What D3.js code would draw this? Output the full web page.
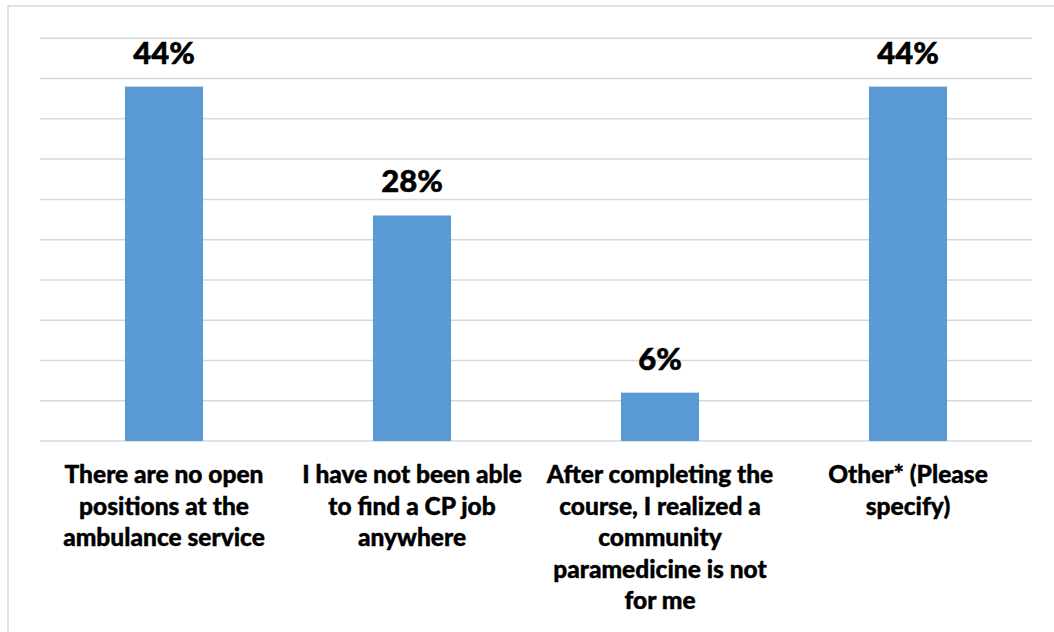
<!DOCTYPE html>
<html>
<head>
<meta charset="utf-8">
<script src="https://cdn.jsdelivr.net/npm/d3@7"></script>
<style>
  html, body { margin: 0; padding: 0; background: #ffffff; }
  svg { display: block; }
</style>
</head>
<body>
<svg id="chart" width="1054" height="632"></svg>
<script>
// Survey responses: reasons for not working as a community paramedic
const categories = [
  "There are no open\npositions at the\nambulance service",
  "I have not been able\nto find a CP job\nanywhere",
  "After completing the\ncourse, I realized a\ncommunity\nparamedicine is not\nfor me",
  "Other* (Please\nspecify)"
];
const percentValues = [44, 28, 6, 44];
const gridTicks = [0, 5, 10, 15, 20, 25, 30, 35, 40, 45, 50];

const W = 1054, H = 632;
const plot = { left: 40, right: 1032, top: 38.3, bottom: 441 };

const svg = d3.select("#chart");

// Chart area frame (right and bottom edges fall outside the canvas)
svg.append("rect")
  .attr("x", 8).attr("y", 6)
  .attr("width", W + 20).attr("height", H + 20)
  .attr("fill", "#ffffff")
  .attr("stroke", "#d9d9d9")
  .attr("stroke-width", 1.5);

const x = d3.scaleBand()
  .domain(categories)
  .range([plot.left, plot.right])
  .paddingInner(0.685)
  .paddingOuter(0.3425);

const y = d3.scaleLinear()
  .domain([0, 50])
  .range([plot.bottom, plot.top]);

// Horizontal gridlines
svg.append("g")
  .selectAll("line")
  .data(gridTicks)
  .join("line")
  .attr("x1", plot.left).attr("x2", plot.right)
  .attr("y1", d => y(d)).attr("y2", d => y(d))
  .attr("stroke", "#d9d9d9")
  .attr("stroke-width", 1.5);

const data = categories.map((c, i) => ({ cat: c, value: percentValues[i] }));

// Bars
svg.append("g")
  .selectAll("rect")
  .data(data)
  .join("rect")
  .attr("x", d => x(d.cat))
  .attr("y", d => y(d.value))
  .attr("width", x.bandwidth())
  .attr("height", d => y(0) - y(d.value))
  .attr("fill", "#5b9bd5");

// Value labels
svg.append("g")
  .selectAll("text")
  .data(data)
  .join("text")
  .attr("x", d => x(d.cat) + x.bandwidth() / 2)
  .attr("y", d => y(d.value) - 23)
  .attr("text-anchor", "middle")
  .attr("font-family", "Lato, 'Open Sans', sans-serif")
  .attr("font-weight", 900)
  .attr("font-size", 31)
  .attr("fill", "#000000")
  .attr("stroke", "#000000")
  .attr("stroke-width", 0.5)
  .text(d => d.value + "%");

// Category labels, one tspan per line
const xLabels = svg.append("g")
  .selectAll("text")
  .data(categories)
  .join("text")
  .attr("text-anchor", "middle")
  .attr("font-family", "Lato, 'Open Sans', sans-serif")
  .attr("font-weight", 900)
  .attr("font-size", 24.5)
  .attr("fill", "#000000")
  .attr("stroke", "#000000")
  .attr("stroke-width", 0.4)
  .attr("transform", d => `translate(${x(d) + x.bandwidth() / 2},${plot.bottom + 42})`);

xLabels.selectAll("tspan")
  .data(d => d.split("\n"))
  .join("tspan")
  .attr("x", 0)
  .attr("y", (d, i) => i * 31.5)
  .text(d => d);
</script>
</body>
</html>
